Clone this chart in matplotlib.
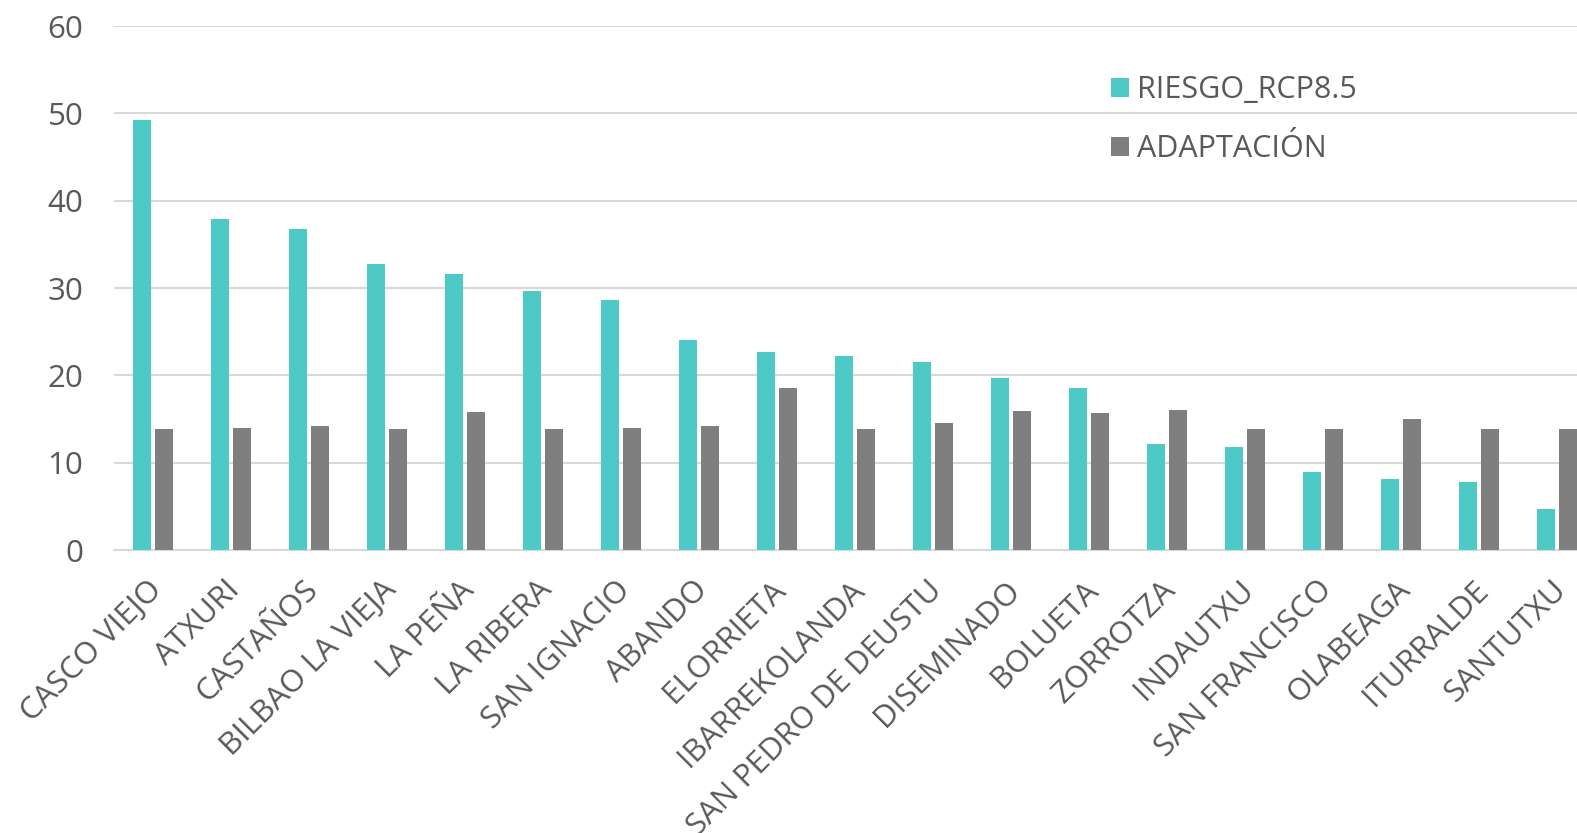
import numpy as np
import matplotlib
matplotlib.use("Agg")
import matplotlib.pyplot as plt
from matplotlib.transforms import ScaledTranslation

plt.rcParams['font.family'] = ['Open Sans', 'DejaVu Sans']

barrios = ['CASCO VIEJO', 'ATXURI', 'CASTAÑOS', 'BILBAO LA VIEJA', 'LA PEÑA',
           'LA RIBERA', 'SAN IGNACIO', 'ABANDO', 'ELORRIETA', 'IBARREKOLANDA',
           'SAN PEDRO DE DEUSTU', 'DISEMINADO', 'BOLUETA', 'ZORROTZA', 'INDAUTXU',
           'SAN FRANCISCO', 'OLABEAGA', 'ITURRALDE', 'SANTUTXU']
riesgo = [49.2, 37.9, 36.8, 32.7, 31.6, 29.6, 28.6, 24.1, 22.7, 22.2,
          21.5, 19.7, 18.5, 12.1, 11.8, 8.9, 8.1, 7.75, 4.7]
adaptacion = [13.9, 14.0, 14.2, 13.9, 15.8, 13.9, 14.0, 14.2, 18.5, 13.9,
              14.5, 15.9, 15.7, 16.0, 13.9, 13.8, 15.0, 13.8, 13.8]

color_riesgo = '#4ECAC6'
color_adapt = '#7F7F7F'
texto = '#595959'

fig = plt.figure(figsize=(15.77, 8.33), dpi=100)
# el eje se sale un poco por la derecha, como en el original
ax = fig.add_axes([114 / 1577, 1 - 550 / 833, 1482 / 1577, 524 / 833])

x = np.arange(len(barrios))
ancho = 0.23
ax.bar(x - 0.143, riesgo, ancho, color=color_riesgo, label='RIESGO_RCP8.5', zorder=3)
ax.bar(x + 0.143, adaptacion, ancho, color=color_adapt, label='ADAPTACIÓN', zorder=3)

ax.set_xlim(-0.5, len(barrios) - 0.5)
ax.set_ylim(0, 60)
ax.set_yticks(range(0, 61, 10))
ax.yaxis.grid(True, color='#D9D9D9', linewidth=1.5, zorder=0)
ax.set_axisbelow(True)

for lado in ['top', 'right', 'left']:
    ax.spines[lado].set_visible(False)
ax.spines['bottom'].set_color('#D9D9D9')
ax.spines['bottom'].set_linewidth(1.5)

ax.set_xticks(x)
ax.set_xticklabels(barrios, rotation=45, ha='right', rotation_mode='anchor',
                   fontsize=22.5, color=texto)
ax.tick_params(axis='x', length=0, pad=18)
ax.tick_params(axis='y', length=0, pad=22, labelsize=22.5, labelcolor=texto)

# correr un poco las etiquetas a la izquierda
desplazamiento = ScaledTranslation(-6 / 100, 0, fig.dpi_scale_trans)
for etiqueta in ax.get_xticklabels():
    etiqueta.set_transform(etiqueta.get_transform() + desplazamiento)

ax.legend(loc='upper left', bbox_to_anchor=(1111 / 1577, 1 - 75 / 833),
          bbox_transform=fig.transFigure, frameon=False, fontsize=22,
          handlelength=0.6, handleheight=0.6, handletextpad=0.26,
          labelspacing=0.95, borderpad=0, borderaxespad=0, labelcolor=texto)

fig.savefig('out.png', dpi=100)
